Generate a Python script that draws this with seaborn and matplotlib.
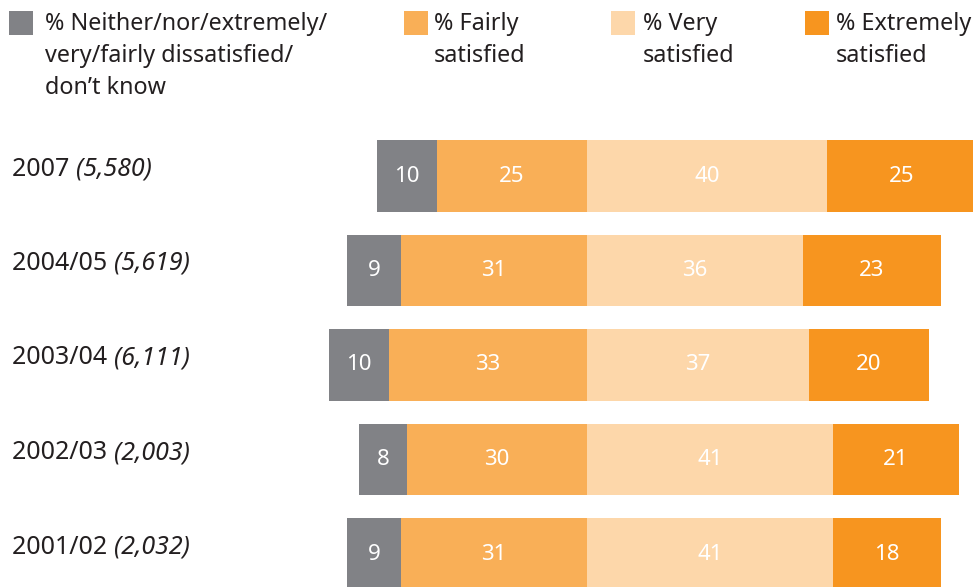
import matplotlib
matplotlib.use("Agg")
import matplotlib.pyplot as plt
from matplotlib.patches import Rectangle
import seaborn as sns
import pandas as pd

# Survey waves and sample sizes
years = ["2007", "2004/05", "2003/04", "2002/03", "2001/02"]
bases = ["(5,580)", "(5,619)", "(6,111)", "(2,003)", "(2,032)"]

# Percentages per satisfaction band
neither = [10, 9, 10, 8, 9]
fairly = [25, 31, 33, 30, 31]
very = [40, 36, 37, 41, 41]
extremely = [25, 23, 20, 21, 18]

legend_labels = [
    "% Neither/nor/extremely/\nvery/fairly dissatisfied/\ndon\u2019t know",
    "% Fairly\nsatisfied",
    "% Very\nsatisfied",
    "% Extremely\nsatisfied",
]

c_neither = "#818286"
c_fairly = "#F9AF57"
c_very = "#FDD7AA"
c_extreme = "#F7951F"
colors = [c_neither, c_fairly, c_very, c_extreme]
text_color = "#231F20"

sns.set_theme(style="white")
plt.rcParams["font.family"] = ["Noto Sans", "DejaVu Sans"]

df = pd.DataFrame({
    "year": years,
    "neither": neither,
    "fairly": fairly,
    "very": very,
    "extremely": extremely,
})
# Diverging layout: fairly/neither extend left of zero, very/extremely to the right
df["left_outer"] = -(df["fairly"] + df["neither"])
df["left_inner"] = -df["fairly"]
df["right_outer"] = df["very"] + df["extremely"]
df["right_inner"] = df["very"]

W, H = 973, 587
fig = plt.figure(figsize=(W / 100, H / 100), dpi=100)
ax = fig.add_axes([0, 0, 1, 1])

bw = 0.76
for col, colr in [("left_outer", c_neither), ("left_inner", c_fairly),
                  ("right_outer", c_extreme), ("right_inner", c_very)]:
    sns.barplot(data=df, x=col, y="year", order=years, orient="h",
                color=colr, width=bw, saturation=1, linewidth=0, ax=ax)

ax.set_xlim(-587 / 6.0, (W - 587) / 6.0)
ax.set_ylim((H - 176) / 94.5, -176 / 94.5)
ax.axis("off")

# Value labels centred in each segment
for i in range(len(years)):
    n, f, v, e = neither[i], fairly[i], very[i], extremely[i]
    centers = [-(f + n / 2), -f / 2, v / 2, v + e / 2]
    for cx, val in zip(centers, [n, f, v, e]):
        ax.text(cx, i, str(val), ha="center", va="center", color="white",
                fontsize=16)

# Row labels: year upright, sample base in italics
fig.canvas.draw()
renderer = fig.canvas.get_renderer()
for i, (yr, b) in enumerate(zip(years, bases)):
    ypix = H - (176 + 94.5 * i) + 7
    t = fig.text(12 / W, ypix / H, yr + " ", ha="left", va="center",
                 fontsize=18, color=text_color)
    bb = t.get_window_extent(renderer)
    fig.text(bb.x1 / W, ypix / H, b, ha="left", va="center",
             fontsize=18, color=text_color, style="italic")

# Legend: colour squares with wrapped labels
sq_x = [9, 404, 611, 805]
txt_x = [45, 434, 643, 836]
for sx, tx, lab, colr in zip(sq_x, txt_x, legend_labels, colors):
    fig.patches.append(Rectangle((sx / W, (H - 35) / H), 24 / W, 24 / H,
                                 transform=fig.transFigure, facecolor=colr,
                                 edgecolor="none"))
    fig.text(tx / W, (H - 12) / H, lab, ha="left", va="top",
             fontsize=16.8, color=text_color, linespacing=1.45)

fig.savefig("out.png", dpi=100)
